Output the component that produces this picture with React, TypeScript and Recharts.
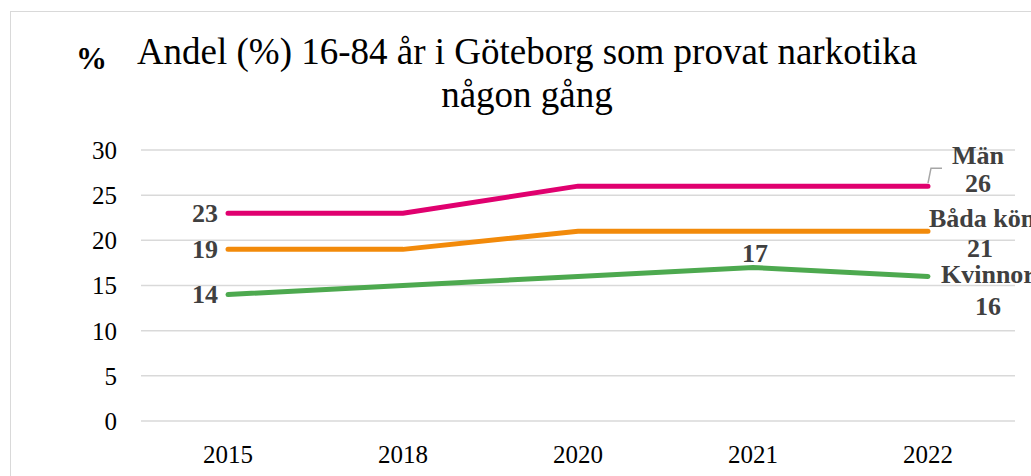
import { LineChart, Line, XAxis, YAxis, CartesianGrid, LabelList } from 'recharts';

const years = ['2015', '2018', '2020', '2021', '2022'];
const manValues = [23, 23, 26, 26, 26];
const badaValues = [19, 19, 21, 21, 21];
const kvinnorValues = [14, 15, 16, 17, 16];
const yTicks = [0, 5, 10, 15, 20, 25, 30];
const seriesNames = { man: 'Män', bada: 'Båda kön', kvinnor: 'Kvinnor' };

const data = years.map((year, i) => ({
  year,
  man: manValues[i],
  bada: badaValues[i],
  kvinnor: kvinnorValues[i],
}));

const FONT = '"Liberation Serif", "Times New Roman", serif';
const LABEL_COLOR = '#404040';

type SeriesKey = 'man' | 'bada' | 'kvinnor';

// etikett-placering för sista punkten (namn + värde)
const endOffsets: Record<SeriesKey, { nx: number; ny: number; vx: number; vy: number; anchor: 'start' | 'middle' }> = {
  man: { nx: 50, ny: -31, vx: 50, vy: -3, anchor: 'middle' },
  bada: { nx: 1, ny: -13, vx: 52, vy: 17, anchor: 'start' },
  kvinnor: { nx: 13, ny: -2, vx: 60, vy: 30, anchor: 'start' },
};

const makeLabel = (key: SeriesKey) => (props: any) => {
  const { x, y, value, index } = props;
  const last = years.length - 1;
  const textProps = {
    fontFamily: FONT,
    fontSize: 26,
    fontWeight: 700,
    fill: LABEL_COLOR,
    dominantBaseline: 'central' as const,
  };
  if (index === 0) {
    return (
      <text x={x - 10} y={y} textAnchor="end" {...textProps}>
        {value}
      </text>
    );
  }
  if (key === 'kvinnor' && index === 3) {
    return (
      <text x={x + 2} y={y - 14} textAnchor="middle" {...textProps}>
        {value}
      </text>
    );
  }
  if (index === last) {
    const o = endOffsets[key];
    return (
      <g>
        {key === 'man' && (
          <path
            d={`M${x},${y - 3} L${x + 3},${y - 18} L${x + 14},${y - 18}`}
            stroke="#a6a6a6"
            strokeWidth={1.5}
            fill="none"
          />
        )}
        <text x={x + o.nx} y={y + o.ny} textAnchor={o.anchor} {...textProps}>
          {seriesNames[key]}
        </text>
        <text x={x + o.vx} y={y + o.vy} textAnchor="middle" {...textProps}>
          {value}
        </text>
      </g>
    );
  }
  return null;
};

export default function App() {
  return (
    <div
      style={{
        position: 'absolute',
        left: 0,
        top: 0,
        width: 1031,
        height: 476,
        overflow: 'hidden',
        background: '#fff',
        fontFamily: FONT,
      }}
    >
      <style>{`.recharts-text, .recharts-cartesian-axis-tick-value { font-family: ${FONT}; }`}</style>
      {/* ram */}
      <div
        style={{
          position: 'absolute',
          left: 10,
          top: 11,
          width: 1100,
          height: 600,
          border: '1px solid #d9d9d9',
        }}
      />
      <div style={{ position: 'absolute', left: 76, top: 41, fontSize: 31, fontWeight: 700, lineHeight: '36px' }}>%</div>
      <div
        style={{
          position: 'absolute',
          left: 0,
          top: 30,
          width: 1054,
          textAlign: 'center',
          fontSize: 37,
          lineHeight: '43px',
          color: '#000',
        }}
      >
        Andel (%) 16-84 år i Göteborg som provat narkotika
        <br />
        någon gång
      </div>
      <LineChart
        width={1031}
        height={476}
        data={data}
        margin={{ top: 150, right: 16, bottom: 0, left: 0 }}
        style={{ position: 'absolute', left: 0, top: 0, fontFamily: FONT }}
      >
        <CartesianGrid vertical={false} stroke="#d9d9d9" strokeWidth={1.5} />
        <XAxis
          dataKey="year"
          height={55}
          axisLine={false}
          tickLine={false}
          tickSize={0}
          tickMargin={24}
          padding={{ left: 87, right: 87 }}
          tick={{ fontSize: 25, fill: '#000', fontFamily: FONT }}
        />
        <YAxis
          domain={[0, 30]}
          ticks={yTicks}
          width={141}
          axisLine={false}
          tickLine={false}
          tickSize={0}
          tickMargin={24}
          tick={{ fontSize: 25, fill: '#000', fontFamily: FONT }}
        />
        <Line
          dataKey="man"
          stroke="#E0006F"
          strokeWidth={5}
          strokeLinecap="round"
          dot={false}
          isAnimationActive={false}
        >
          <LabelList dataKey="man" content={makeLabel('man')} />
        </Line>
        <Line
          dataKey="bada"
          stroke="#F28A0A"
          strokeWidth={5}
          strokeLinecap="round"
          dot={false}
          isAnimationActive={false}
        >
          <LabelList dataKey="bada" content={makeLabel('bada')} />
        </Line>
        <Line
          dataKey="kvinnor"
          stroke="#4DA94F"
          strokeWidth={5}
          strokeLinecap="round"
          dot={false}
          isAnimationActive={false}
        >
          <LabelList dataKey="kvinnor" content={makeLabel('kvinnor')} />
        </Line>
      </LineChart>
    </div>
  );
}
